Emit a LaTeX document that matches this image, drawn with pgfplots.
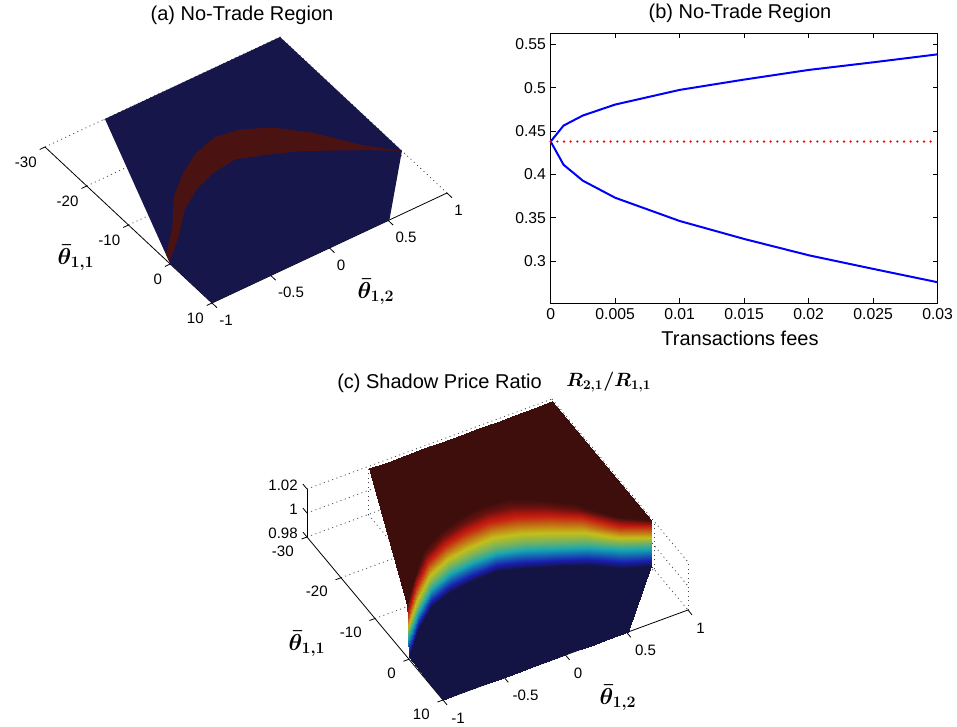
\documentclass[border=0pt]{standalone}
\usepackage[no-math]{fontspec}
\setmainfont{Liberation Sans}
\usepackage{amsmath,bm}
\usepackage{pgfplots}
\pgfplotsset{compat=1.18}
\definecolor{ablue}{RGB}{22,22,75}
\definecolor{ared}{RGB}{75,18,18}
\definecolor{gridc}{RGB}{70,70,70}
\tikzset{
 gl/.style={gridc, line width=0.6pt, dash pattern=on 0.75pt off 2.6pt},
 al/.style={black, line width=0.6pt},
 tl/.style={font=\fontsize{11.3}{13}\selectfont, inner sep=0pt},
 ttl/.style={font=\fontsize{15}{18}\selectfont, inner sep=0pt},
 tml/.style={font=\fontsize{17.5}{20}\selectfont, inner sep=0pt},
}
\newcommand\gseg[2]{\addplot3[gl] coordinates {#1 #2};}
\newcommand\aseg[2]{\addplot3[al] coordinates {#1 #2};}
\begin{document}
\begin{tikzpicture}
\useasboundingbox (0,0) rectangle (717.75pt,-545.25pt);

% ---------------- (a) ----------------
\begin{axis}[
 at={(215.81pt,-156.75pt)}, anchor=origin, disabledatascaling,
 x={(88.125pt,41.25pt)}, y={(3.131pt,-2.925pt)}, z={(0pt,1pt)},
 xmin=-1,xmax=1,ymin=-30,ymax=10,zmin=-1,zmax=1,
 hide axis, clip=false]
 \gseg{(-1,-30,0)}{(1,-30,0)}
 \gseg{(-1,-20,0)}{(1,-20,0)}
 \gseg{(-1,-10,0)}{(1,-10,0)}
 \gseg{(-1,0,0)}{(1,0,0)}
 \gseg{(-0.5,-30,0)}{(-0.5,10,0)}
 \gseg{(0,-30,0)}{(0,10,0)}
 \gseg{(0.5,-30,0)}{(0.5,10,0)}
 \gseg{(1,-30,0)}{(1,10,0)}
 \aseg{(-1,10,0)}{(1,10,0)}
 \aseg{(-1,-30,0)}{(-1,10,0)}
 \aseg{(-1,10,0)}{(-1,11.2,0)}
 \aseg{(-0.5,10,0)}{(-0.5,11.2,0)}
 \aseg{(0,10,0)}{(0,11.2,0)}
 \aseg{(0.5,10,0)}{(0.5,11.2,0)}
 \aseg{(1,10,0)}{(1,11.2,0)}
 \aseg{(-1,-30,0)}{(-1.045,-30,0)}
 \aseg{(-1,-20,0)}{(-1.045,-20,0)}
 \aseg{(-1,-10,0)}{(-1.045,-10,0)}
 \aseg{(-1,0,0)}{(-1.045,0,0)}
 \aseg{(-1,10,0)}{(-1.045,10,0)}
 % feasible domain
 \addplot3[fill=ablue, draw=none] coordinates {
 (-1,10,0) (-1,0,0) (-0.49,-30,0) (1,-30,0) (1,-0.8,0) (0.51,10,0)};
 % no-trade band
 \addplot3[fill=ared, draw=none] coordinates {
 (-0.99,-0.5,0) (-0.791,-3.9,0) (-0.592,-8.07,0) (-0.393,-10.7,0) (-0.194,-12.15,0)
 (0.005,-12.65,0) (0.204,-11.0,0) (0.403,-9.1,0) (0.602,-6.5,0) (0.801,-3.8,0) (1.0,-0.8,0)
 (0.804,-5.1,0) (0.607,-11.0,0) (0.411,-15.1,0) (0.214,-17.4,0) (0.018,-18.1,0)
 (-0.179,-16.9,0) (-0.376,-14.5,0) (-0.572,-11.2,0) (-0.769,-6.0,0) (-0.965,-2.0,0)};
 \pgfplotsinvokeforeach{-1,-0.5,0,0.5,1}{
 \node[tl, anchor=west, xshift=5.25pt, yshift=-12.75pt] at (axis cs:#1,10,0) {#1};}
 \pgfplotsinvokeforeach{-30,-20,-10,0,10}{
 \node[tl, anchor=east, xshift=-6pt, yshift=-11.25pt] at (axis cs:-1,#1,0) {#1};}
\end{axis}

% ---------------- (b) ----------------
\begin{axis}[
 at={(413.0pt,-227.5pt)}, anchor=south west,
 width=290.25pt, height=202.5pt, scale only axis,
 xmin=0, xmax=0.03, ymin=0.2515, ymax=0.5627,
 xtick={0,0.005,0.01,0.015,0.02,0.025,0.03},
 xticklabels={0,0.005,0.01,0.015,0.02,0.025,0.03},
 ytick={0.3,0.35,0.4,0.45,0.5,0.55},
 yticklabels={0.3,0.35,0.4,0.45,0.5,0.55},
 scaled ticks=false,
 tick align=inside, major tick length=3.75pt,
 tick style={black, line width=0.6pt},
 axis line style={line width=0.6pt},
 ticklabel style={font=\fontsize{11.8}{13}\selectfont},
 clip=false]
 \addplot[blue, line width=1.5pt] coordinates {(0,0.438) (0.001,0.4564) (0.0025,0.468) (0.005,0.4806) (0.01,0.4975) (0.015,0.5094) (0.02,0.5205) (0.025,0.5293) (0.03,0.5385)};
 \addplot[blue, line width=1.5pt] coordinates {(0,0.438) (0.001,0.4112) (0.0025,0.3928) (0.005,0.3732) (0.01,0.3464) (0.015,0.3257) (0.02,0.3069) (0.025,0.2912) (0.03,0.2758)};
 \addplot[red, line width=1.9pt, line cap=round, dash pattern=on 0pt off 5pt] coordinates {(0,0.438) (0.0297,0.438)};
\end{axis}

% ---------------- (c) ----------------
\begin{axis}[
 at={(398.625pt,-460.69pt)}, anchor=origin, disabledatascaling,
 x={(91.875pt,33.75pt)}, y={(2.55pt,-3.056pt)}, z={(0pt,900pt)},
 xmin=-1,xmax=1,ymin=-30,ymax=10,zmin=0.98,zmax=1.02,
 hide axis, clip=false,
 colormap={darkjet}{rgb255(0cm)=(20,20,68) rgb255(1cm)=(25,30,175) rgb255(3cm)=(20,165,180) rgb255(5cm)=(195,190,25) rgb255(7cm)=(195,25,15) rgb255(8cm)=(62,14,13)},
 point meta min=0.98, point meta max=1.018]
 \gseg{(-1,-30,0.98)}{(1,-30,0.98)}
 \gseg{(-1,-20,0.98)}{(1,-20,0.98)}
 \gseg{(-1,-10,0.98)}{(1,-10,0.98)}
 \gseg{(-1,0,0.98)}{(1,0,0.98)}
 \gseg{(-0.5,-30,0.98)}{(-0.5,10,0.98)}
 \gseg{(0,-30,0.98)}{(0,10,0.98)}
 \gseg{(0.5,-30,0.98)}{(0.5,10,0.98)}
 \gseg{(1,-30,0.98)}{(1,10,0.98)}
 \gseg{(-1,-30,1)}{(1,-30,1)}
 \gseg{(-1,-30,1.02)}{(1,-30,1.02)}
 \gseg{(-0.5,-30,0.98)}{(-0.5,-30,1.02)}
 \gseg{(0,-30,0.98)}{(0,-30,1.02)}
 \gseg{(0.5,-30,0.98)}{(0.5,-30,1.02)}
 \gseg{(1,-30,0.98)}{(1,-30,1.02)}
 \gseg{(1,-30,1)}{(1,10,1)}
 \gseg{(1,-30,1.02)}{(1,10,1.02)}
 \gseg{(1,-20,0.98)}{(1,-20,1.02)}
 \gseg{(1,-10,0.98)}{(1,-10,1.02)}
 \gseg{(1,0,0.98)}{(1,0,1.02)}
 \gseg{(1,10,0.98)}{(1,10,1.02)}
 \aseg{(-1,10,0.98)}{(1,10,0.98)}
 \aseg{(-1,-30,0.98)}{(-1,10,0.98)}
 \aseg{(-1,-30,0.98)}{(-1,-30,1.02)}
 \aseg{(-1,10,0.98)}{(-1,11.2,0.98)}
 \aseg{(-0.5,10,0.98)}{(-0.5,11.2,0.98)}
 \aseg{(0,10,0.98)}{(0,11.2,0.98)}
 \aseg{(0.5,10,0.98)}{(0.5,11.2,0.98)}
 \aseg{(1,10,0.98)}{(1,11.2,0.98)}
 \aseg{(-1,-30,0.98)}{(-1.045,-30,0.98)}
 \aseg{(-1,-20,0.98)}{(-1.045,-20,0.98)}
 \aseg{(-1,-10,0.98)}{(-1.045,-10,0.98)}
 \aseg{(-1,0,0.98)}{(-1.045,0,0.98)}
 \aseg{(-1,10,0.98)}{(-1.045,10,0.98)}
 \aseg{(-1,-30,0.98)}{(-1,-31.2,0.98)}
 \aseg{(-1,-30,1)}{(-1,-31.2,1)}
 \aseg{(-1,-30,1.02)}{(-1,-31.2,1.02)}
 \addplot3[surf, shader=interp, z buffer=none, mesh/cols=11, point meta=z] table[x=x,y=y,z=z] {
x y z
-0.49 -30 1.018
-0.341 -30 1.018
-0.192 -30 1.018
-0.043 -30 1.018
0.106 -30 1.018
0.255 -30 1.018
0.404 -30 1.018
0.553 -30 1.018
0.702 -30 1.018
0.851 -30 1.018
1.0 -30 1.018
-0.969 -1.775 1.018
-0.772 -6.575 1.018
-0.575 -10.86 1.018
-0.3785 -13.13 1.018
-0.181 -14.44 1.018
0.016 -15.13 1.018
0.2125 -14.64 1.018
0.4098 -12.4 1.018
0.606 -9.23 1.018
0.8036 -3.7 1.018
1.0 -0.8 1.018
-0.974 -1.456 1.01648
-0.777 -6.129 1.01648
-0.579 -10.195 1.01648
-0.382 -12.32 1.01648
-0.184 -13.43 1.01648
0.013 -13.97 1.01648
0.210 -13.28 1.01648
0.408 -11.125 1.01648
0.605 -8.27 1.01648
0.803 -3.425 1.01648
1.0 -0.8 1.01648
-0.9795 -1.14 1.0123
-0.782 -5.68 1.0123
-0.5835 -9.53 1.0123
-0.386 -11.52 1.0123
-0.1876 -12.42 1.0123
0.0105 -12.82 1.0123
0.208 -11.92 1.0123
0.4064 -9.85 1.0123
0.604 -7.32 1.0123
0.8023 -3.15 1.0123
1.0 -0.8 1.0123
-0.9837 -0.883 1.00508
-0.7854 -5.326 1.00508
-0.587 -9.0 1.00508
-0.3887 -10.87 1.00508
-0.1902 -11.61 1.00508
0.0083 -11.89 1.00508
0.2066 -10.83 1.00508
0.405 -8.83 1.00508
0.6032 -6.55 1.00508
0.8018 -2.93 1.00508
1.0 -0.8 1.00508
-0.9879 -0.628 0.99976
-0.7891 -4.969 0.99976
-0.5903 -8.466 0.99976
-0.3916 -10.223 0.99976
-0.1927 -10.804 0.99976
0.0061 -10.963 0.99976
0.2049 -9.744 0.99976
0.4037 -7.81 0.99976
0.6024 -5.783 0.99976
0.8013 -2.71 0.99976
1.0 -0.8 0.99976
-0.9896 -0.526 0.99596
-0.7906 -4.826 0.99596
-0.5917 -8.253 0.99596
-0.3927 -9.965 0.99596
-0.1937 -10.481 0.99596
0.0052 -10.593 0.99596
0.2042 -9.309 0.99596
0.4031 -7.402 0.99596
0.6021 -5.477 0.99596
0.8011 -2.622 0.99596
1.0 -0.8 0.99596
-0.99 -0.5 0.98
-0.791 -4.79 0.98
-0.592 -8.2 0.98
-0.393 -9.9 0.98
-0.194 -10.4 0.98
0.005 -10.5 0.98
0.204 -9.2 0.98
0.403 -7.3 0.98
0.602 -5.4 0.98
0.801 -2.6 0.98
1.0 -0.8 0.98
-1 10 0.98
-0.849 10 0.98
-0.698 10 0.98
-0.547 10 0.98
-0.396 10 0.98
-0.245 10 0.98
-0.094 10 0.98
0.057 10 0.98
0.208 10 0.98
0.359 10 0.98
0.51 10 0.98
};
 \pgfplotsinvokeforeach{-1,-0.5,0,0.5,1}{
 \node[tl, anchor=west, xshift=6pt, yshift=-13.5pt] at (axis cs:#1,10,0.98) {#1};}
 \pgfplotsinvokeforeach{-30,-20,-10,0,10}{
 \node[tl, anchor=east, xshift=-9.75pt, yshift=-10.5pt] at (axis cs:-1,#1,0.98) {#1};}
 \pgfplotsinvokeforeach{0.98,1,1.02}{
 \node[tl, anchor=east, xshift=-6.75pt, yshift=3pt] at (axis cs:-1,-30,#1) {#1};}
\end{axis}

% ---------------- titles and labels ----------------
\node[ttl] at (181.5pt,-11.25pt) {(a) No-Trade Region};
\node[ttl] at (555pt,-9.75pt) {(b) No-Trade Region};
\node[ttl] at (555pt,-253.5pt) {Transactions fees};
\node[ttl, anchor=west] at (252.75pt,-287.25pt) {(c) Shadow Price Ratio};
\node[anchor=west, inner sep=0pt, font=\fontsize{14.4}{17}\selectfont] at (424.5pt,-286.5pt) {$\boldsymbol{R_{2,1}/R_{1,1}}$};
\node[tml] at (57pt,-193.5pt) {$\boldsymbol{\bar{\theta}_{1,1}}$};
\node[tml] at (282pt,-219pt) {$\boldsymbol{\bar{\theta}_{1,2}}$};
\node[tml] at (230.25pt,-483pt) {$\boldsymbol{\bar{\theta}_{1,1}}$};
\node[tml] at (463.5pt,-523.5pt) {$\boldsymbol{\bar{\theta}_{1,2}}$};
\end{tikzpicture}
\end{document}
